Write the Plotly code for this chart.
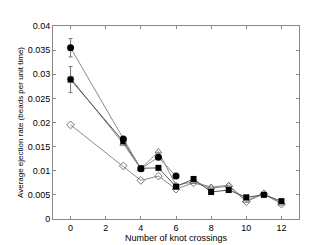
import plotly.graph_objects as go

x_circ = [0, 3, 4, 5, 6]
y_circ = [0.0355, 0.0166, 0.0104, 0.0128, 0.0089]
x_sq = [0, 3, 4, 5, 6, 7, 8, 9, 10, 11, 12]
y_sq = [0.0289, 0.0161, 0.0105, 0.0106, 0.0067, 0.0083, 0.0056, 0.0060, 0.0045, 0.0050, 0.0037]
x_tri = [0, 3, 4, 5, 6, 7, 8, 9, 10, 11, 12]
y_tri = [0.0292, 0.0156, 0.0104, 0.0140, 0.0070, 0.0077, 0.0066, 0.0070, 0.0038, 0.0054, 0.0032]
x_dia = [0, 3, 4, 5, 6, 7, 8, 9, 10, 11, 12]
y_dia = [0.0195, 0.0110, 0.0080, 0.0089, 0.0062, 0.0075, 0.0064, 0.0068, 0.0036, 0.0052, 0.0031]
err_circ = [0.0019, 0, 0, 0, 0]
err_sq = [0.0027, 0, 0, 0, 0, 0, 0, 0, 0, 0, 0]

xticks = [0, 2, 4, 6, 8, 10, 12]
yticks = [0, 0.005, 0.01, 0.015, 0.02, 0.025, 0.03, 0.035, 0.04]
ytick_text = ["0", "0.005", "0.01", "0.015", "0.02", "0.025", "0.03", "0.035", "0.04"]

LINE = "#8a8a8a"
fig = go.Figure()
fig.add_trace(go.Scatter(x=x_dia, y=y_dia, mode="lines+markers",
    line=dict(color=LINE, width=1),
    marker=dict(symbol="diamond-open", size=6, color="#777777", line=dict(width=1))))
fig.add_trace(go.Scatter(x=x_tri, y=y_tri, mode="lines+markers",
    line=dict(color=LINE, width=1),
    marker=dict(symbol="triangle-up-open", size=6, color="#777777", line=dict(width=1))))
fig.add_trace(go.Scatter(x=x_sq, y=y_sq, mode="lines+markers",
    line=dict(color="#555555", width=1),
    error_y=dict(type="data", array=err_sq, color="#777777", thickness=1, width=2),
    marker=dict(symbol="square", size=6, color="black")))
fig.add_trace(go.Scatter(x=x_circ, y=y_circ, mode="lines+markers",
    line=dict(color=LINE, width=1),
    error_y=dict(type="data", array=err_circ, color="#777777", thickness=1, width=2),
    marker=dict(symbol="circle", size=7, color="black")))

fig.update_layout(
    width=322, height=245,
    margin=dict(l=42, r=31, t=18, b=28),
    paper_bgcolor="white", plot_bgcolor="white",
    showlegend=False,
    font=dict(family="Liberation Sans, Arial, sans-serif", size=9, color="black"),
)
fig.update_xaxes(range=[-1, 13], tickvals=xticks, ticks="inside", ticklen=3,
    tickcolor="#888888", showline=True, linecolor="#888888", mirror="ticks",
    showgrid=False, zeroline=False,
    title=dict(text="Number of knot crossings", standoff=2, font=dict(size=9)))
fig.update_yaxes(range=[0, 0.04], tickvals=yticks, ticktext=ytick_text, ticks="inside",
    ticklen=3, tickcolor="#888888", showline=True, linecolor="#888888", mirror="ticks",
    showgrid=False, zeroline=False,
    title=dict(text="Average ejection rate (beads per unit time)", standoff=2, font=dict(size=8)))

fig.write_html("out.html")
